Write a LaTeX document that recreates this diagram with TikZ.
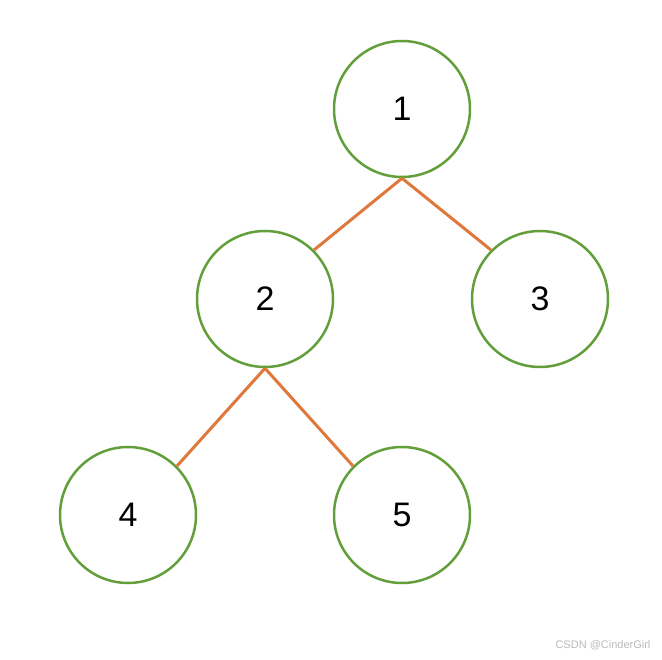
\documentclass[tikz,border=0pt]{standalone}
\usepackage{fontspec}
\setmainfont{Liberation Sans}
\definecolor{ngreen}{RGB}{98,158,58}
\definecolor{eorange}{RGB}{224,120,60}
\definecolor{wm}{RGB}{185,185,185}
\begin{document}
\begin{tikzpicture}[x=1pt,y=-1pt,
  tnode/.style={circle,draw=ngreen,line width=2.5pt,minimum size=136pt,inner sep=0pt,font=\fontsize{34}{34}\selectfont},
  edge/.style={draw=eorange,line width=3pt}]
\useasboundingbox (0,0) rectangle (662,660);
\node[tnode] (n1) at (402,109) {1};
\node[tnode] (n2) at (265,299) {2};
\node[tnode] (n3) at (540,299) {3};
\node[tnode] (n4) at (128,515) {4};
\node[tnode] (n5) at (402,515) {5};
\draw[edge] (n1.south) -- (n2.45);
\draw[edge] (n1.south) -- (n3.135);
\draw[edge] (n2.south) -- (n4.45);
\draw[edge] (n2.south) -- (n5.135);
\node[text=wm,font=\fontsize{11}{11}\selectfont] (wm) at (603,645) {CSDN @CinderGirl};
\end{tikzpicture}
\end{document}
